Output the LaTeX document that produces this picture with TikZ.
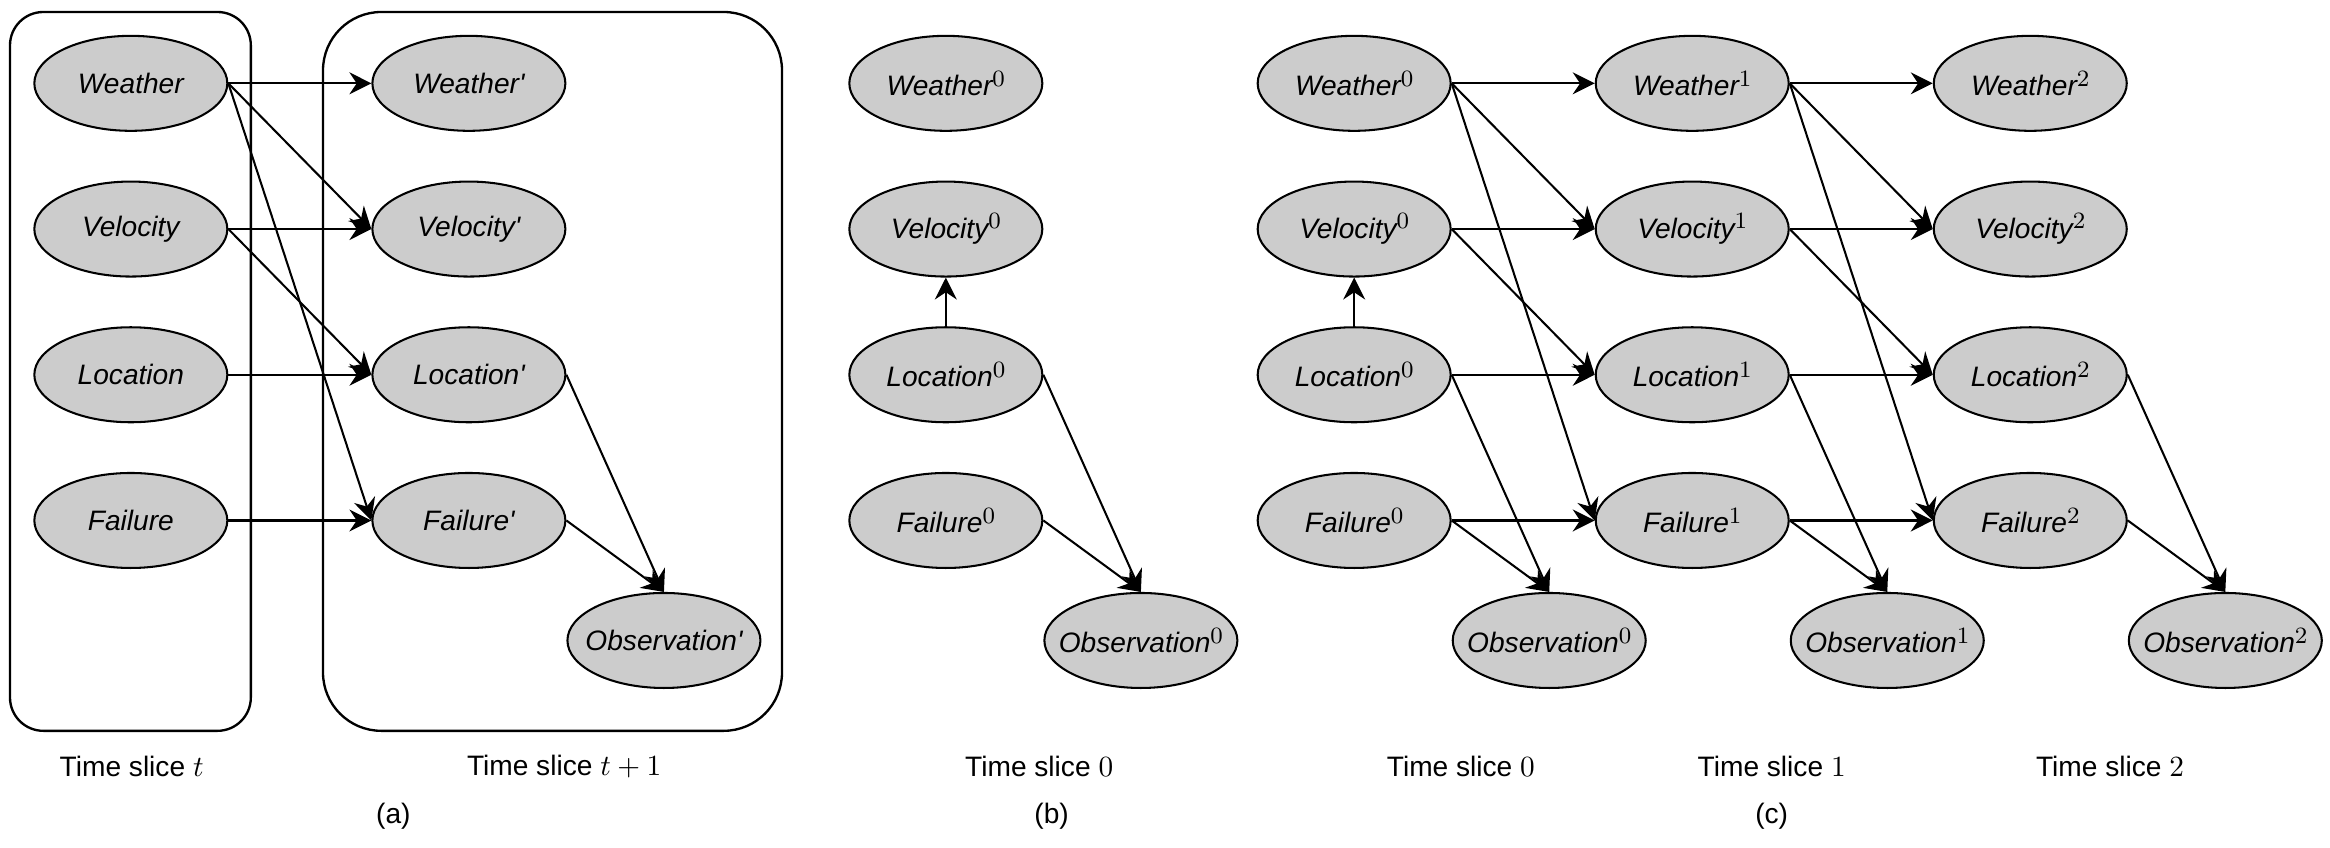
\documentclass[tikz,border=0pt]{standalone}
\usepackage{fontspec}
\setmainfont{Liberation Sans}
\usetikzlibrary{shapes.geometric, arrows.meta, positioning}
\definecolor{nodegray}{HTML}{CCCCCC}
\newcommand{\tstep}[1]{\raisebox{3.2pt}{\fontsize{7.9}{8}\selectfont$#1$}}

\begin{document}
\begin{tikzpicture}[
        var/.style={draw, ellipse, fill=nodegray, line width=0.7pt, minimum width=2.316cm, minimum height=1.14cm, inner sep=0pt, inner xsep=-0.35cm, font=\fontsize{9.6}{11}\selectfont\itshape},
        dep/.style={-{Stealth[length=7.5pt, width=7.5pt, inset=2.5pt]}, line width=0.7pt},
        slice/.style={draw, line width=0.8pt},
        caption/.style={font=\fontsize{9.6}{11}\selectfont},
        node distance=0.584cm and 1.716cm
    ]
        \useasboundingbox (0,0) rectangle (27.96,-10.176);

        % (a) Slices
        \draw[slice, rounded corners=0.4cm] (0.12,-0.144) rectangle (3.01,-8.77);
        \draw[slice, rounded corners=0.7cm] (3.876,-0.144) rectangle (9.384,-8.77);

        % (a) Time slice t
        \node[var] (w) at (1.57,-1.0) {Weather};
        \node[var, below=of w] (v) {Velocity};
        \node[var, below=of v] (l) {Location};
        \node[var, below=of l] (f) {Failure};

        % (a) Time slice t+1
        \node[var, right=of w] (wn) {Weather\textquotesingle};
        \node[var, right=of v] (vn) {Velocity\textquotesingle};
        \node[var, right=of l] (ln) {Location\textquotesingle};
        \node[var, right=of f] (fn) {Failure\textquotesingle};
        \node[var, right=0pt of fn, yshift=-1.44cm] (on) {Observation\textquotesingle};

        % (a) Arrows
        \draw[dep] (w.east) -- (wn.west);
        \draw[dep] (w.east) -- (vn.west);
        \draw[dep] (w.east) -- (fn.west);
        \draw[dep] (v.east) -- (vn.west);
        \draw[dep] (v.east) -- (ln.west);
        \draw[dep] (l.east) -- (ln.west);
        \draw[dep] (f.east) -- (fn.west);
        \draw[dep] (ln.east) -- (on.north);
        \draw[dep] (fn.east) -- (on.north);

        \node[caption] (tst) at (1.58,-9.20) {Time slice $t$};
        \node[caption] (tsnext) at (6.77,-9.20) {Time slice $t+1$};
        \node[caption] (capa) at (4.72,-9.80) {(a)};

        % (b) Time slice 0
        \node[var] (bw) at (11.35,-1.0) {Weather\tstep{0}};
        \node[var, below=of bw] (bv) {Velocity\tstep{0}};
        \node[var, below=of bv] (bl) {Location\tstep{0}};
        \node[var, below=of bl] (bf) {Failure\tstep{0}};
        \node[var, right=0pt of bf, yshift=-1.44cm] (bo) {Observation\tstep{0}};

        \draw[dep] (bl.north) -- (bv.south);
        \draw[dep] (bl.east) -- (bo.north);
        \draw[dep] (bf.east) -- (bo.north);

        \node[caption] (tsb) at (12.47,-9.20) {Time slice $0$};
        \node[caption] (capb) at (12.62,-9.80) {(b)};

        % (c) Time slice 0
        \node[var] (w0) at (16.25,-1.0) {Weather\tstep{0}};
        \node[var, below=of w0] (v0) {Velocity\tstep{0}};
        \node[var, below=of v0] (l0) {Location\tstep{0}};
        \node[var, below=of l0] (f0) {Failure\tstep{0}};
        \node[var, right=0pt of f0, yshift=-1.44cm] (o0) {Observation\tstep{0}};

        % (c) Time slice 1
        \node[var, right=of w0] (w1) {Weather\tstep{1}};
        \node[var, right=of v0] (v1) {Velocity\tstep{1}};
        \node[var, right=of l0] (l1) {Location\tstep{1}};
        \node[var, right=of f0] (f1) {Failure\tstep{1}};
        \node[var, right=0pt of f1, yshift=-1.44cm] (o1) {Observation\tstep{1}};

        % (c) Time slice 2
        \node[var, right=of w1] (w2) {Weather\tstep{2}};
        \node[var, right=of v1] (v2) {Velocity\tstep{2}};
        \node[var, right=of l1] (l2) {Location\tstep{2}};
        \node[var, right=of f1] (f2) {Failure\tstep{2}};
        \node[var, right=0pt of f2, yshift=-1.44cm] (o2) {Observation\tstep{2}};

        % (c) Arrows
        \draw[dep] (l0.north) -- (v0.south);
        \draw[dep] (l0.east) -- (o0.north);
        \draw[dep] (f0.east) -- (o0.north);
        \draw[dep] (w0.east) -- (w1.west);
        \draw[dep] (w0.east) -- (v1.west);
        \draw[dep] (w0.east) -- (f1.west);
        \draw[dep] (v0.east) -- (v1.west);
        \draw[dep] (v0.east) -- (l1.west);
        \draw[dep] (l0.east) -- (l1.west);
        \draw[dep] (f0.east) -- (f1.west);

        \draw[dep] (l1.east) -- (o1.north);
        \draw[dep] (f1.east) -- (o1.north);
        \draw[dep] (w1.east) -- (w2.west);
        \draw[dep] (w1.east) -- (v2.west);
        \draw[dep] (w1.east) -- (f2.west);
        \draw[dep] (v1.east) -- (v2.west);
        \draw[dep] (v1.east) -- (l2.west);
        \draw[dep] (l1.east) -- (l2.west);
        \draw[dep] (f1.east) -- (f2.west);

        \draw[dep] (l2.east) -- (o2.north);
        \draw[dep] (f2.east) -- (o2.north);

        \node[caption] (tsc0) at (17.53,-9.20) {Time slice $0$};
        \node[caption] (tsc1) at (21.26,-9.20) {Time slice $1$};
        \node[caption] (tsc2) at (25.32,-9.20) {Time slice $2$};
        \node[caption] (capc) at (21.26,-9.80) {(c)};
    \end{tikzpicture}
\end{document}
